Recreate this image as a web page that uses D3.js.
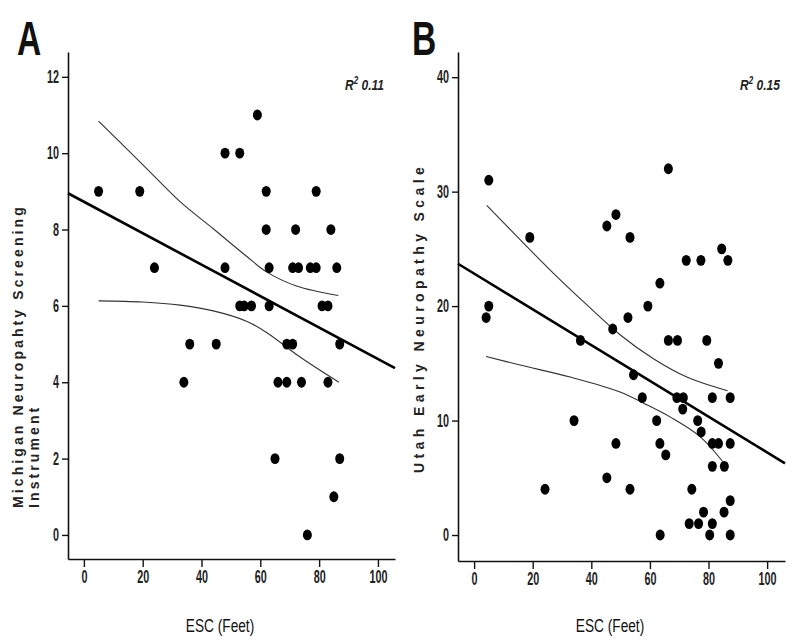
<!DOCTYPE html>
<html>
<head>
<meta charset="utf-8">
<script src="https://cdn.jsdelivr.net/npm/d3@7/dist/d3.min.js"></script>
<style>
  html, body { margin: 0; padding: 0; background: #fff; }
  svg { display: block; }
</style>
</head>
<body>
<svg id="chart" width="800" height="642"></svg>
<script>
// ---------------- DATA ----------------
// Panel A: ESC (feet) vs Michigan Neuropathy Screening Instrument
const escA  = [5, 19, 62, 79, 48, 53, 59, 62, 72, 84, 24, 48, 63, 71, 73, 77, 79, 86,
               53, 54.5, 57, 63, 81, 83, 36, 45, 69, 71, 87, 34, 66, 69, 74, 83, 65, 87, 85, 76];
const mnsiA = [9, 9, 9, 9, 10, 10, 11, 8, 8, 8, 7, 7, 7, 7, 7, 7, 7, 7,
               6, 6, 6, 6, 6, 6, 5, 5, 5, 5, 5, 4, 4, 4, 4, 4, 2, 2, 1, 0];
const fitA_x = [-5.4, 105.8];
const fitA_y = [8.95, 4.37];
const ciUpperA_x = [5, 20, 32.7, 44, 55.3, 62.1, 72.3, 86.5];
const ciUpperA_y = [10.84, 9.7, 8.73, 8.02, 7.3, 6.89, 6.52, 6.27];
const ciLowerA_x = [5, 20, 32.7, 44, 55.3, 62, 73.5, 86.7];
const ciLowerA_y = [6.13, 6.1, 6.02, 5.87, 5.6, 5.31, 4.66, 4.0];
const xTicksA = [0, 20, 40, 60, 80, 100];
const yTicksA = [0, 2, 4, 6, 8, 10, 12];

// Panel B: ESC (feet) vs Utah Early Neuropathy Scale
const escB  = [5, 66.3, 45.3, 48.4, 19, 53.2, 72.4, 77.4, 84.5, 86.6, 63.4, 59.3, 52.5, 5, 4.1, 47.3,
               36.3, 66.3, 69.4, 79.4, 83.4, 54.4, 57.4, 69.2, 71.4, 71.2, 81.3, 87.4, 34.1, 62.3, 76.3,
               77.5, 48.4, 63.4, 81.3, 83.4, 87.4, 65.4, 81.3, 85.4, 45.3, 24.2, 53.2, 74.3, 87.4,
               78.3, 85.3, 73.4, 76.6, 81.3, 63.5, 80.4, 87.4];
const uensB = [31, 32, 27, 28, 26, 26, 24, 24, 25, 24, 22, 20, 19, 20, 19, 18,
               17, 17, 17, 17, 15, 14, 12, 12, 12, 11, 12, 12, 10, 10, 10,
               9, 8, 8, 8, 8, 8, 7, 6, 6, 5, 4, 4, 4, 3,
               2, 2, 1, 1, 1, 0, 0, 0];
const fitB_x = [-5.5, 106.1];
const fitB_y = [23.7, 6.26];
const ciUpperB_x = [4.3, 15.7, 27.1, 38.5, 49.8, 61.2, 72.6, 86.5];
const ciUpperB_y = [28.8, 25.8, 22.86, 20.1, 17.5, 15.4, 13.8, 12.6];
const ciLowerB_x = [4.1, 15.7, 32.8, 49.8, 58, 67, 77.1, 84.9];
const ciLowerB_y = [15.6, 14.85, 13.8, 12.5, 11.5, 10.3, 8.6, 6.4];
const xTicksB = [0, 20, 40, 60, 80, 100];
const yTicksB = [0, 10, 20, 30, 40];

// ---------------- DRAWING ----------------
const svg = d3.select("#chart");
const SANS = "'Liberation Sans', Arial, sans-serif";

function zip(xs, ys) { return xs.map((x, i) => [x, ys[i]]); }

function drawPanel(p) {
  const g = svg.append("g");
  const x = d3.scaleLinear().domain(p.xDomain).range(p.xRange);
  const y = d3.scaleLinear().domain(p.yDomain).range(p.yRange);

  // axes
  const xAxis = d3.axisBottom(x).tickValues(p.xTicks).tickSize(8).tickSizeOuter(0).tickPadding(3);
  const yAxis = d3.axisLeft(y).tickValues(p.yTicks).tickSize(6).tickSizeOuter(0).tickPadding(3);

  const gx = g.append("g").attr("transform", `translate(0,${p.yRange[0]})`).call(xAxis);
  const gy = g.append("g").attr("transform", `translate(${p.xRange[0]},0)`).call(yAxis);

  [gx, gy].forEach(ax => {
    ax.select(".domain").attr("stroke", "#111").attr("stroke-width", 1.6);
    ax.selectAll(".tick line").attr("stroke", "#111").attr("stroke-width", 1.4);
    ax.selectAll(".tick text")
      .attr("font-family", SANS)
      .attr("font-weight", "bold")
      .attr("font-size", 18)
      .attr("fill", "#222");
  });
  // horizontally condense tick labels
  const sx = 0.6;
  gx.selectAll(".tick text").attr("transform", `scale(${sx},1)`);
  gy.selectAll(".tick text").each(function() {
    const t = d3.select(this);
    t.attr("x", (+t.attr("x")) / sx).attr("transform", `scale(${sx},1)`);
  });

  // confidence bands
  const line = d3.line().x(d => x(d[0])).y(d => y(d[1])).curve(d3.curveCatmullRom.alpha(0.5));
  [zip(p.ciUx, p.ciUy), zip(p.ciLx, p.ciLy)].forEach(pts => {
    g.append("path").attr("d", line(pts))
      .attr("fill", "none").attr("stroke", "#333").attr("stroke-width", 1.1);
  });

  // regression line
  g.append("path").attr("d", d3.line().x(d => x(d[0])).y(d => y(d[1]))(zip(p.fitX, p.fitY)))
    .attr("fill", "none").attr("stroke", "#000").attr("stroke-width", 2.6);

  // points
  g.append("g").selectAll("ellipse").data(zip(p.xs, p.ys)).join("ellipse")
    .attr("cx", d => x(d[0])).attr("cy", d => y(d[1]))
    .attr("rx", 4.5).attr("ry", 5.4).attr("fill", "#000");

  // panel letter
  g.append("text")
    .attr("transform", `translate(${p.letterX},55) scale(0.7,1)`)
    .attr("font-family", SANS).attr("font-weight", "bold").attr("font-size", 48)
    .attr("fill", "#111").text(p.letter);

  // R^2 annotation
  const r = g.append("text")
    .attr("transform", `translate(${p.r2X},90) scale(0.8,1)`)
    .attr("font-family", SANS).attr("font-style", "italic").attr("font-weight", "bold")
    .attr("font-size", 15).attr("fill", "#222");
  r.append("tspan").text("R");
  r.append("tspan").attr("dy", -6).attr("font-size", 10).text("2");
  r.append("tspan").attr("dy", 6).text(" " + p.r2);

  // x axis title
  g.append("text")
    .attr("transform", `translate(${p.xTitleX},632) scale(0.72,1)`)
    .attr("text-anchor", "middle")
    .attr("font-family", SANS).attr("font-size", 19).attr("fill", "#111")
    .text("ESC (Feet)");

  // y axis title(s)
  p.yTitles.forEach(t => {
    g.append("text")
      .attr("transform", `translate(${t.x},${t.y}) rotate(-90)`)
      .attr("text-anchor", "start")
      .attr("font-family", SANS).attr("font-weight", "bold")
      .attr("font-size", 14).attr("letter-spacing", t.ls).attr("fill", "#222")
      .text(t.text);
  });
}

drawPanel({
  xs: escA, ys: mnsiA,
  xDomain: [-5.4, 105.8], xRange: [68, 395],
  yDomain: [-0.63, 12.65], yRange: [559, 52],
  xTicks: xTicksA, yTicks: yTicksA,
  fitX: fitA_x, fitY: fitA_y,
  ciUx: ciUpperA_x, ciUy: ciUpperA_y, ciLx: ciLowerA_x, ciLy: ciLowerA_y,
  letter: "A", letterX: 17, r2X: 345, r2: "0.11", xTitleX: 220,
  yTitles: [
    { text: "Michigan Neuropahty Screening", x: 23, y: 508, ls: 3.1 },
    { text: "Instrument", x: 39, y: 508, ls: 3.1 }
  ]
});

drawPanel({
  xs: escB, ys: uensB,
  xDomain: [-5.5, 106.1], xRange: [458, 785],
  yDomain: [-2.27, 42.2], yRange: [561, 52],
  xTicks: xTicksB, yTicks: yTicksB,
  fitX: fitB_x, fitY: fitB_y,
  ciUx: ciUpperB_x, ciUy: ciUpperB_y, ciLx: ciLowerB_x, ciLy: ciLowerB_y,
  letter: "B", letterX: 412, r2X: 740, r2: "0.15", xTitleX: 610,
  yTitles: [
    { text: "Utah Early Neuropathy Scale", x: 424, y: 473, ls: 4.4 }
  ]
});
</script>
</body>
</html>
